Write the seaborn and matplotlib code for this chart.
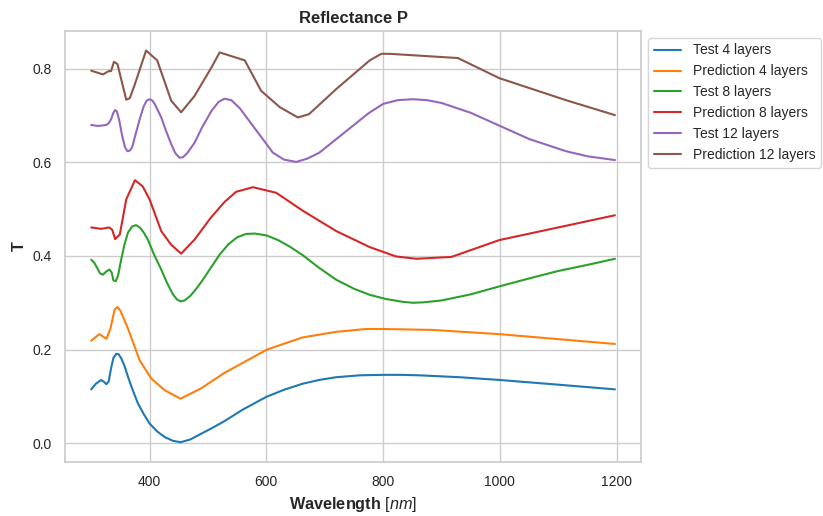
import numpy as np
import pandas as pd
import matplotlib
matplotlib.use("Agg")
import matplotlib.pyplot as plt
import seaborn as sns

# ---- data ----
series_names = ["Test 4 layers", "Prediction 4 layers", "Test 8 layers",
                "Prediction 8 layers", "Test 12 layers", "Prediction 12 layers"]

wl_test4 = [300, 308, 317, 322, 326, 330, 334, 338, 343, 347, 352, 357, 363, 370, 380, 390,
            400, 413, 426, 440, 453, 470, 488, 508, 528, 560, 600, 630, 662, 690, 720, 760,
            800, 830, 862, 930, 1000, 1100, 1197]
t_test4 = [0.115, 0.127, 0.135, 0.131, 0.126, 0.132, 0.160, 0.182, 0.191, 0.190, 0.180, 0.165,
           0.142, 0.117, 0.085, 0.062, 0.042, 0.025, 0.013, 0.005, 0.002, 0.008, 0.020, 0.033,
           0.047, 0.072, 0.099, 0.114, 0.127, 0.135, 0.141, 0.145, 0.146, 0.146, 0.145, 0.141,
           0.135, 0.125, 0.115]

wl_pred4 = [300, 314, 326, 333, 340, 345, 350, 363, 383, 403, 426, 453, 488, 528, 601, 662,
            720, 771, 800, 885, 999, 1197]
t_pred4 = [0.219, 0.233, 0.223, 0.245, 0.285, 0.291, 0.283, 0.245, 0.177, 0.138, 0.113, 0.095,
           0.117, 0.150, 0.200, 0.226, 0.238, 0.244, 0.244, 0.242, 0.233, 0.212]

wl_test8 = [300, 305, 310, 315, 320, 326, 331, 335, 338, 342, 346, 351, 357, 363, 370, 377,
            384, 390, 397, 408, 420, 430, 440, 447, 453, 460, 470, 480, 490, 505, 520, 535,
            550, 565, 580, 600, 620, 640, 662, 690, 720, 750, 777, 805, 834, 851, 870, 900,
            950, 999, 1050, 1100, 1150, 1197]
t_test8 = [0.392, 0.386, 0.375, 0.363, 0.360, 0.367, 0.371, 0.365, 0.348, 0.346, 0.358, 0.390,
           0.425, 0.450, 0.463, 0.466, 0.460, 0.450, 0.435, 0.402, 0.371, 0.342, 0.318, 0.307,
           0.303, 0.305, 0.315, 0.330, 0.347, 0.375, 0.403, 0.425, 0.440, 0.447, 0.448, 0.444,
           0.434, 0.420, 0.402, 0.375, 0.349, 0.330, 0.317, 0.308, 0.302, 0.300, 0.301, 0.305,
           0.318, 0.335, 0.352, 0.368, 0.381, 0.394]

wl_pred8 = [300, 317, 331, 336, 341, 349, 360, 375, 388, 400, 420, 437, 454, 477, 505, 528,
            548, 577, 617, 662, 720, 777, 822, 857, 917, 999, 1197]
t_pred8 = [0.461, 0.458, 0.461, 0.456, 0.436, 0.446, 0.521, 0.562, 0.549, 0.521, 0.453, 0.424,
           0.405, 0.435, 0.482, 0.515, 0.537, 0.547, 0.535, 0.497, 0.453, 0.419, 0.399, 0.394,
           0.398, 0.434, 0.487]

wl_test12 = [300, 311, 320, 326, 330, 334, 338, 341, 344, 348, 353, 358, 362, 366, 370, 376,
             383, 390, 395, 400, 405, 410, 420, 428, 437, 444, 451, 457, 464, 477, 490, 506,
             518, 528, 540, 555, 577, 595, 611, 630, 651, 670, 691, 720, 748, 775, 800, 825,
             851, 875, 900, 950, 1000, 1050, 1113, 1150, 1197]
t_test12 = [0.680, 0.678, 0.679, 0.680, 0.684, 0.692, 0.706, 0.712, 0.709, 0.690, 0.657, 0.632,
            0.624, 0.625, 0.632, 0.660, 0.692, 0.720, 0.732, 0.735, 0.732, 0.722, 0.696, 0.668,
            0.639, 0.620, 0.610, 0.611, 0.619, 0.642, 0.675, 0.710, 0.729, 0.736, 0.733, 0.715,
            0.678, 0.648, 0.621, 0.606, 0.601, 0.608, 0.621, 0.650, 0.678, 0.705, 0.725, 0.733,
            0.735, 0.733, 0.727, 0.706, 0.678, 0.650, 0.624, 0.613, 0.605]

wl_pred12 = [300, 320, 330, 334, 339, 345, 360, 366, 374, 394, 413, 437, 454, 477, 506, 520,
             563, 591, 623, 654, 673, 720, 777, 797, 811, 928, 999, 1113, 1197]
t_pred12 = [0.796, 0.788, 0.795, 0.795, 0.815, 0.810, 0.734, 0.737, 0.764, 0.839, 0.818, 0.732,
            0.707, 0.742, 0.803, 0.835, 0.818, 0.753, 0.718, 0.696, 0.703, 0.757, 0.818, 0.832,
            0.832, 0.823, 0.780, 0.733, 0.701]

all_wl = [wl_test4, wl_pred4, wl_test8, wl_pred8, wl_test12, wl_pred12]
all_t = [t_test4, t_pred4, t_test8, t_pred8, t_test12, t_pred12]

frames = []
for name, w, t in zip(series_names, all_wl, all_t):
    frames.append(pd.DataFrame({"Wavelength": w, "T": t, "series": name}))
df = pd.concat(frames, ignore_index=True)

# ---- style ----
sns.set_theme(style="whitegrid")
plt.rcParams["font.family"] = ["Liberation Sans", "DejaVu Sans"]
plt.rcParams["mathtext.fontset"] = "custom"
plt.rcParams["mathtext.rm"] = "Liberation Sans"
plt.rcParams["mathtext.it"] = "Liberation Sans:italic"
plt.rcParams["mathtext.bf"] = "Liberation Sans:bold"

fig, ax = plt.subplots(figsize=(8.23, 5.16), dpi=100)
fig.subplots_adjust(left=0.079, right=0.779, top=0.940, bottom=0.105)

palette = sns.color_palette("tab10", 6)
sns.lineplot(data=df, x="Wavelength", y="T", hue="series", hue_order=series_names,
             palette=palette, estimator=None, sort=False, linewidth=1.5, ax=ax)

ax.set_title("Reflectance P", fontsize=12, fontweight="bold")
ax.set_xlabel("Wavelength $[nm]$", fontsize=11.7, fontweight="bold")
ax.set_ylabel("T", fontsize=11.7, fontweight="bold")
ax.tick_params(labelsize=10)
ax.set_xticks([400, 600, 800, 1000, 1200])
ax.set_yticks([0.0, 0.2, 0.4, 0.6, 0.8])

sns.move_legend(ax, "upper left", bbox_to_anchor=(1.0, 1.0), title=None, fontsize=10,
                frameon=True)

fig.savefig("out.png", dpi=100)
